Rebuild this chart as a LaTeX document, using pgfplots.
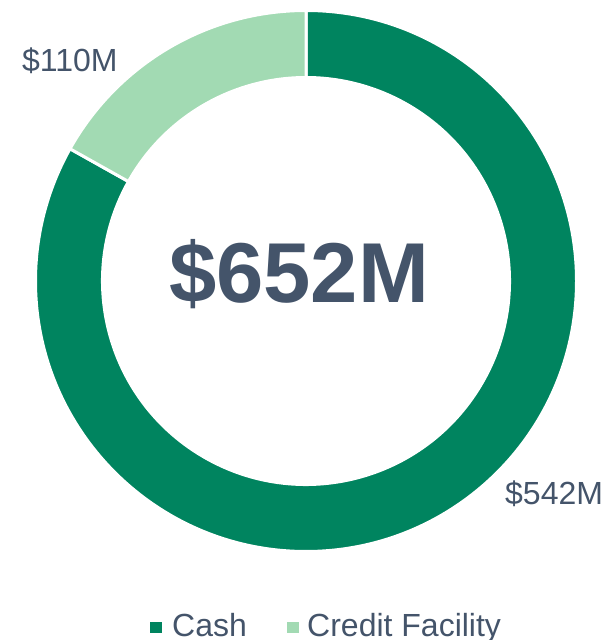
\documentclass[border=0pt]{standalone}
\usepackage{pgfplots}
\pgfplotsset{compat=1.18}
\usepackage{fontspec}
\setmainfont{Liberation Sans}
\definecolor{cash}{HTML}{00845F}
\definecolor{credit}{HTML}{A2DAB3}
\definecolor{txt}{HTML}{44546A}
\begin{document}
\begin{tikzpicture}
% data (millions of dollars)
\def\cashval{542}
\def\creditval{110}
\pgfmathsetmacro\total{\cashval+\creditval}
\pgfmathsetmacro\frac{\cashval/\total}
\pgfmathsetmacro\angB{90-360*\frac}
\begin{axis}[
  scale only axis, width=605pt, height=640pt,
  xmin=0, xmax=605, ymin=0, ymax=640,
  axis lines=none, clip=false,
]
% Cash slice (clockwise from top)
\fill[cash, draw=white, line width=3pt]
  (axis cs:306,359) ++(90:270.5) arc[start angle=90, end angle=\angB, radius=270.5]
  -- ++(\angB:-67) arc[start angle=\angB, end angle=90, radius=203.5] -- cycle;
% Credit facility slice
\fill[credit, draw=white, line width=3pt]
  (axis cs:306,359) ++(\angB:270.5) arc[start angle=\angB, end angle=-270, radius=270.5]
  -- ++(90:-67) arc[start angle=-270, end angle=\angB, radius=203.5] -- cycle;
% labels
\node[anchor=base west, inner sep=0, text=txt, font=\fontsize{32}{38}\selectfont] at (axis cs:22,568) {\$110M};
\node[anchor=base west, inner sep=0, text=txt, font=\fontsize{32}{38}\selectfont] at (axis cs:505,135) {\$542M};
\node[anchor=base, inner sep=0, text=txt, font=\fontsize{85}{100}\selectfont\bfseries] at (axis cs:299,337) {\$652M};
% legend
\fill[cash] (axis cs:150,7) rectangle (axis cs:162,18);
\node[anchor=base west, inner sep=0, text=txt, font=\fontsize{32}{38}\selectfont] at (axis cs:172,3) {Cash};
\fill[credit] (axis cs:287,7) rectangle (axis cs:299,18);
\node[anchor=base west, inner sep=0, text=txt, font=\fontsize{32}{38}\selectfont] at (axis cs:307,3) {Credit Facility};
\end{axis}
\pgfresetboundingbox
\path[use as bounding box] (current axis.south west) rectangle (current axis.north east);
\end{tikzpicture}
\end{document}
